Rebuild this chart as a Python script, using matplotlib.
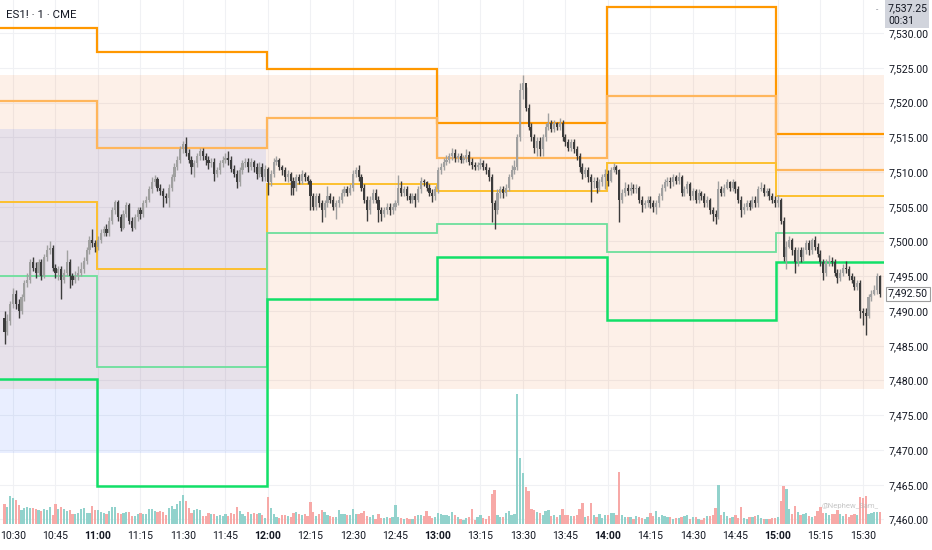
import numpy as np
import matplotlib
matplotlib.use('Agg')
import matplotlib.pyplot as plt
from matplotlib.patches import Rectangle
from matplotlib.transforms import blended_transform_factory, Affine2D

# 1-minute ES1! bars, minutes counted from 10:30 (first bar is 10:27)
start_minute = -3
first_open = 7489.0

closes = [
    7487.0, 7488.5, 7491.0, 7492.5, 7491.0, 7490.0, 7492.0, 7494.0, 7494.5, 7497.0,
    7496.25, 7495.5, 7497.0, 7495.0, 7497.75, 7498.75, 7499.0, 7496.25, 7495.5, 7496.0,
    7494.5, 7495.5, 7497.0, 7495.0, 7494.5, 7495.0, 7495.5, 7496.0, 7497.25, 7498.75,
    7500.25, 7499.75, 7499.25, 7500.25, 7501.25, 7501.75, 7501.25, 7503.0, 7504.5, 7505.75,
    7503.5, 7502.0, 7504.0, 7505.25, 7503.0, 7502.0, 7503.5, 7504.5, 7504.0, 7505.5,
    7506.0, 7507.5, 7508.5, 7509.0, 7507.75, 7507.25, 7506.5, 7506.25, 7507.75, 7509.25,
    7510.75, 7511.75, 7513.25, 7514.0, 7512.75, 7511.75, 7510.75, 7511.25, 7512.25, 7513.0,
    7512.25, 7511.75, 7511.25, 7511.5, 7509.75, 7510.25, 7511.25, 7511.75, 7512.0, 7511.75,
    7510.5, 7509.75, 7508.5, 7510.25, 7511.25, 7511.5, 7510.75, 7511.5, 7510.75, 7509.75,
    7510.75, 7509.25, 7510.5, 7508.5, 7509.75, 7511.5, 7511.75, 7510.75, 7510.25, 7509.25,
    7509.75, 7508.75, 7507.75, 7509.25, 7508.75, 7509.75, 7509.25, 7508.75, 7506.5, 7505.0,
    7506.5, 7505.5, 7504.5, 7505.5, 7506.5, 7506.0, 7505.0, 7505.5, 7506.0, 7507.0,
    7507.5, 7507.0, 7507.75, 7509.75, 7510.25, 7509.25, 7507.75, 7506.0, 7504.5, 7506.0,
    7507.0, 7506.0, 7504.5, 7504.0, 7504.5, 7505.0, 7504.5, 7505.0, 7505.5, 7507.75,
    7507.0, 7507.5, 7506.5, 7506.0, 7506.5, 7506.0, 7507.5, 7508.75, 7508.5, 7507.75,
    7507.0, 7506.5, 7507.5, 7510.25, 7510.75, 7511.5, 7511.75, 7512.25, 7512.75, 7512.0,
    7512.25, 7511.75, 7512.0, 7512.5, 7511.5, 7511.0, 7510.75, 7511.0, 7511.25, 7510.75,
    7510.25, 7509.25, 7505.5, 7504.5, 7507.0, 7507.5, 7507.0, 7507.75, 7509.25, 7510.25,
    7510.75, 7515.0, 7521.75, 7522.75, 7519.25, 7516.5, 7515.0, 7513.5, 7514.5, 7513.25,
    7515.0, 7516.5, 7517.0, 7516.25, 7517.0, 7516.5, 7517.0, 7515.0, 7514.25, 7513.5,
    7514.25, 7513.25, 7512.25, 7510.75, 7509.75, 7510.25, 7509.25, 7508.5, 7508.75, 7507.75,
    7508.5, 7509.25, 7509.75, 7508.75, 7510.25, 7510.75, 7510.25, 7506.0, 7507.0, 7507.75,
    7507.25, 7507.75, 7507.5, 7507.75, 7506.0, 7505.25, 7505.5, 7506.0, 7505.5, 7505.0,
    7505.5, 7506.5, 7507.75, 7508.5, 7508.75, 7508.5, 7509.25, 7508.75, 7509.25, 7507.0,
    7507.5, 7508.25, 7506.5, 7507.25, 7506.0, 7507.0, 7506.5, 7505.5, 7506.0, 7504.5,
    7504.0, 7503.5, 7507.5, 7507.0, 7507.75, 7508.5, 7507.75, 7508.5, 7507.5, 7506.0,
    7504.5, 7505.0, 7505.5, 7505.0, 7506.0, 7505.5, 7507.5, 7507.75, 7507.0, 7507.25,
    7506.5, 7506.0, 7505.5, 7506.0, 7503.0, 7497.75, 7499.25, 7500.25, 7498.75, 7497.0,
    7498.75, 7497.75, 7498.75, 7499.75, 7498.75, 7500.25, 7499.25, 7498.25, 7497.0, 7495.5,
    7497.0, 7497.25, 7497.0, 7495.5, 7494.75, 7495.5, 7496.25, 7496.0, 7495.0, 7494.5,
    7493.5, 7494.0, 7490.0, 7489.75, 7489.25, 7492.0, 7492.5, 7493.0, 7495.0, 7492.5,
]

highs = [
    7490.0, 7489.5, 7491.5, 7493.25, 7493.0, 7491.75, 7492.5, 7494.5, 7495.5, 7497.5,
    7497.75, 7497.0, 7497.5, 7497.5, 7498.25, 7499.5, 7500.0, 7499.5, 7496.75, 7496.5,
    7496.5, 7496.0, 7498.75, 7497.5, 7495.5, 7495.75, 7496.5, 7497.0, 7497.75, 7499.25,
    7500.75, 7501.75, 7500.25, 7500.75, 7501.75, 7502.25, 7502.5, 7503.5, 7505.0, 7506.0,
    7506.0, 7504.0, 7504.5, 7505.75, 7505.5, 7503.5, 7504.0, 7505.0, 7505.0, 7506.0,
    7506.5, 7508.0, 7509.25, 7509.5, 7509.25, 7508.25, 7507.75, 7507.0, 7508.25, 7509.75,
    7511.25, 7512.25, 7513.75, 7514.5, 7515.0, 7513.25, 7512.25, 7511.75, 7512.75, 7513.5,
    7513.5, 7512.75, 7512.25, 7512.0, 7512.0, 7510.75, 7511.75, 7512.25, 7512.75, 7513.0,
    7512.25, 7511.0, 7510.25, 7510.75, 7511.75, 7512.0, 7512.0, 7512.0, 7511.75, 7511.25,
    7511.5, 7511.25, 7511.0, 7510.75, 7510.25, 7512.0, 7512.25, 7512.0, 7511.0, 7510.75,
    7510.25, 7510.0, 7509.25, 7509.75, 7509.75, 7510.25, 7510.0, 7509.5, 7509.0, 7507.0,
    7507.0, 7507.0, 7506.0, 7506.0, 7508.0, 7507.0, 7506.5, 7506.0, 7506.5, 7507.5,
    7508.0, 7508.0, 7508.25, 7510.25, 7510.75, 7511.0, 7509.75, 7508.25, 7506.5, 7506.5,
    7507.5, 7507.5, 7506.5, 7505.0, 7505.0, 7505.5, 7505.5, 7505.5, 7506.0, 7509.5,
    7508.75, 7508.0, 7508.0, 7507.0, 7507.0, 7507.0, 7508.0, 7509.25, 7509.0, 7508.75,
    7508.25, 7507.5, 7508.0, 7510.75, 7511.25, 7512.0, 7512.5, 7512.75, 7513.5, 7513.25,
    7512.75, 7512.75, 7512.5, 7513.25, 7513.0, 7512.0, 7511.5, 7511.5, 7512.0, 7511.75,
    7511.25, 7510.75, 7509.75, 7506.0, 7507.5, 7508.0, 7508.0, 7508.25, 7509.75, 7511.0,
    7511.75, 7515.5, 7522.75, 7524.0, 7522.25, 7519.75, 7517.0, 7515.5, 7515.0, 7515.0,
    7515.5, 7517.0, 7518.5, 7517.5, 7517.5, 7517.25, 7517.75, 7517.5, 7515.5, 7514.75,
    7514.75, 7514.75, 7513.75, 7512.75, 7511.25, 7510.75, 7510.75, 7509.75, 7509.25, 7509.25,
    7509.0, 7509.75, 7510.5, 7510.25, 7510.75, 7511.25, 7511.0, 7510.5, 7507.5, 7508.5,
    7508.25, 7508.5, 7508.25, 7508.25, 7508.0, 7506.5, 7506.0, 7506.5, 7506.5, 7506.0,
    7506.0, 7507.0, 7508.25, 7509.0, 7509.25, 7509.25, 7509.75, 7509.5, 7510.0, 7509.5,
    7508.0, 7508.75, 7508.5, 7507.75, 7507.5, 7507.5, 7507.25, 7507.0, 7506.5, 7506.25,
    7505.0, 7504.5, 7508.75, 7508.0, 7508.25, 7509.0, 7508.75, 7509.0, 7508.75, 7508.0,
    7506.5, 7505.5, 7506.0, 7506.0, 7506.5, 7506.5, 7508.0, 7508.5, 7508.25, 7507.75,
    7507.75, 7507.0, 7506.5, 7506.75, 7506.25, 7503.5, 7500.0, 7500.75, 7500.5, 7499.25,
    7499.25, 7499.25, 7499.25, 7500.25, 7500.25, 7500.5, 7500.75, 7499.75, 7498.75, 7497.5,
    7497.5, 7498.0, 7497.75, 7497.5, 7496.0, 7496.0, 7496.75, 7497.25, 7496.5, 7495.5,
    7495.0, 7494.5, 7494.5, 7490.5, 7490.5, 7492.5, 7493.0, 7493.75, 7495.5, 7495.25,
]

lows = [
    7485.25, 7486.5, 7488.0, 7490.5, 7490.25, 7489.0, 7489.5, 7491.5, 7493.5, 7494.0,
    7495.75, 7494.75, 7495.0, 7494.5, 7494.75, 7497.25, 7498.25, 7495.75, 7494.75, 7494.5,
    7491.75, 7494.0, 7495.0, 7493.25, 7493.75, 7494.0, 7494.5, 7495.0, 7495.5, 7496.75,
    7498.25, 7499.25, 7498.5, 7498.75, 7499.75, 7500.75, 7500.75, 7500.75, 7502.5, 7504.0,
    7503.0, 7501.5, 7501.75, 7503.5, 7502.5, 7501.5, 7501.75, 7503.0, 7503.25, 7503.5,
    7505.0, 7505.75, 7507.0, 7508.0, 7507.25, 7506.75, 7505.0, 7505.5, 7505.0, 7507.25,
    7508.75, 7510.25, 7511.25, 7512.75, 7512.25, 7511.25, 7509.75, 7509.25, 7510.75, 7511.75,
    7511.75, 7511.0, 7510.5, 7510.75, 7508.75, 7509.25, 7509.75, 7510.75, 7511.25, 7511.0,
    7510.0, 7509.25, 7507.75, 7508.0, 7509.75, 7510.75, 7510.0, 7510.25, 7510.0, 7509.0,
    7509.25, 7508.75, 7508.75, 7506.75, 7508.0, 7509.25, 7511.0, 7510.25, 7509.5, 7508.75,
    7508.5, 7506.75, 7506.75, 7507.25, 7508.25, 7508.25, 7508.75, 7508.25, 7504.5, 7504.5,
    7504.5, 7505.0, 7502.75, 7503.5, 7505.0, 7505.5, 7504.5, 7503.25, 7505.0, 7505.5,
    7506.5, 7506.5, 7506.75, 7507.25, 7509.25, 7508.75, 7507.25, 7505.5, 7503.0, 7504.0,
    7505.5, 7505.5, 7502.75, 7503.0, 7503.5, 7504.0, 7503.75, 7504.0, 7504.5, 7505.25,
    7506.5, 7506.5, 7506.0, 7505.5, 7505.5, 7505.0, 7505.75, 7507.0, 7508.0, 7507.25,
    7506.5, 7505.75, 7506.0, 7507.0, 7509.75, 7510.25, 7511.0, 7511.25, 7511.75, 7511.5,
    7511.5, 7511.25, 7511.25, 7511.5, 7511.0, 7510.5, 7510.25, 7510.25, 7510.5, 7510.25,
    7509.75, 7508.75, 7502.75, 7501.75, 7504.0, 7506.25, 7506.25, 7506.5, 7507.25, 7509.0,
    7509.75, 7510.25, 7514.5, 7520.5, 7518.75, 7516.0, 7514.5, 7512.75, 7512.25, 7512.25,
    7512.25, 7514.5, 7516.0, 7515.75, 7515.75, 7516.0, 7516.0, 7514.5, 7513.75, 7513.0,
    7513.0, 7512.75, 7511.75, 7510.0, 7509.0, 7509.25, 7508.5, 7505.75, 7507.75, 7507.0,
    7507.25, 7508.0, 7507.5, 7508.0, 7508.5, 7510.0, 7509.75, 7502.75, 7505.5, 7506.5,
    7506.75, 7506.75, 7507.0, 7507.0, 7505.5, 7504.25, 7504.75, 7505.0, 7504.75, 7504.25,
    7504.0, 7505.0, 7506.0, 7507.25, 7508.0, 7507.75, 7508.0, 7508.25, 7508.25, 7506.5,
    7506.5, 7507.0, 7506.0, 7506.0, 7505.5, 7505.5, 7506.0, 7505.0, 7505.0, 7504.0,
    7503.0, 7502.5, 7503.25, 7506.5, 7506.5, 7507.5, 7507.25, 7507.25, 7507.0, 7505.5,
    7503.5, 7504.0, 7504.5, 7504.5, 7504.75, 7505.0, 7505.0, 7507.25, 7506.5, 7506.5,
    7506.0, 7505.5, 7505.0, 7505.0, 7502.5, 7497.25, 7496.0, 7499.0, 7498.0, 7495.5,
    7496.5, 7497.0, 7497.25, 7498.25, 7498.0, 7498.25, 7498.75, 7497.75, 7496.5, 7494.5,
    7495.0, 7496.5, 7496.5, 7495.0, 7494.0, 7494.25, 7495.0, 7495.5, 7494.5, 7494.0,
    7493.0, 7493.0, 7489.0, 7488.0, 7486.5, 7489.0, 7491.5, 7492.25, 7492.5, 7492.0,
]

# volume in hundreds of contracts
volumes = [
    20, 17, 28, 26, 24, 19, 14, 16, 17, 16,
    16, 15, 14, 13, 15, 14, 17, 9, 20, 15,
    17, 15, 13, 14, 10, 10, 11, 15, 16, 11,
    11, 18, 14, 14, 12, 11, 10, 13, 17, 17,
    11, 10, 11, 12, 12, 8, 8, 10, 11, 10,
    10, 15, 15, 13, 12, 13, 12, 9, 16, 18,
    15, 20, 23, 29, 23, 16, 11, 14, 15, 14,
    8, 8, 11, 10, 10, 8, 9, 8, 10, 8,
    11, 10, 17, 13, 10, 8, 12, 10, 11, 10,
    11, 9, 6, 27, 16, 10, 7, 6, 9, 9,
    8, 7, 11, 12, 10, 9, 10, 8, 22, 12,
    8, 10, 14, 12, 9, 8, 7, 7, 14, 10,
    10, 9, 9, 15, 10, 10, 11, 13, 8, 7,
    9, 5, 10, 6, 6, 7, 6, 7, 19, 7,
    6, 5, 6, 5, 5, 8, 9, 9, 8, 13,
    8, 6, 7, 11, 10, 9, 9, 8, 12, 9,
    7, 5, 4, 6, 7, 15, 4, 7, 9, 6,
    5, 8, 30, 34, 9, 7, 7, 11, 13, 9,
    10, 130, 66, 51, 37, 33, 15, 14, 12, 11,
    9, 13, 14, 8, 9, 7, 9, 15, 9, 9,
    8, 8, 9, 15, 21, 7, 8, 21, 9, 7,
    10, 6, 9, 9, 11, 11, 9, 52, 9, 7,
    7, 7, 5, 8, 7, 6, 5, 7, 11, 8,
    13, 7, 9, 8, 7, 7, 5, 6, 6, 7,
    8, 9, 5, 7, 7, 5, 4, 6, 8, 8,
    9, 16, 39, 9, 12, 8, 6, 7, 9, 6,
    17, 6, 5, 7, 7, 8, 9, 6, 5, 5,
    5, 6, 6, 7, 23, 38, 35, 15, 10, 18,
    12, 9, 10, 11, 8, 7, 8, 13, 17, 11,
    11, 9, 10, 10, 14, 10, 8, 10, 7, 9,
    10, 9, 27, 26, 28, 10, 11, 12, 12, 12,
]

# hourly levels (one value per hour block)
hour_edges = [-5, 29.5, 89.5, 149.5, 209.5, 269.5, 308]
level_top = [7530.75, 7527.25, 7524.75, 7517.0, 7533.75, 7515.5]
level_upper = [7520.25, 7513.5, 7517.75, 7512.0, 7521.0, 7510.25]
level_mid = [7505.75, 7496.0, 7508.25, 7507.25, 7511.25, 7506.5]
level_lower = [7495.0, 7482.0, 7501.25, 7502.5, 7498.5, 7501.25]
level_bottom = [7480.25, 7464.75, 7491.75, 7497.75, 7488.75, 7497.0]

# shaded zones
session_zone = (7478.75, 7524.0)
morning_zone = (7469.5, 7516.25)
morning_zone_end = 89.3

time_ticks = list(range(0, 301, 15))
time_labels = ['10:30', '10:45', '11:00', '11:15', '11:30', '11:45', '12:00', '12:15',
               '12:30', '12:45', '13:00', '13:15', '13:30', '13:45', '14:00', '14:15',
               '14:30', '14:45', '15:00', '15:15', '15:30']
price_ticks = list(range(7460, 7531, 5))

TEXT = '#131722'
FS = 7.6


def main():
    plt.rcParams['font.family'] = ['Roboto', 'DejaVu Sans']
    fig = plt.figure(figsize=(9.32, 5.5), dpi=100)
    ax = fig.add_axes([0, 26 / 550, 884 / 932, 524 / 550])

    draw_zones(ax)
    draw_volume(ax)
    draw_levels(ax)
    draw_candles(ax)
    style_axes(ax)
    draw_labels(fig, ax)

    fig.savefig('out.png', dpi=100)


def draw_zones(ax):
    ax.axhspan(*session_zone, color='#f06000', alpha=0.09, lw=0, zorder=1)
    ax.add_patch(Rectangle((-5, morning_zone[0]), morning_zone_end + 5,
                           morning_zone[1] - morning_zone[0],
                           color='#2962ff', alpha=0.1, lw=0, zorder=1))


def draw_volume(ax):
    x = np.arange(start_minute, start_minute + len(closes))
    opens = np.array([first_open] + closes[:-1])
    up = np.array(closes) >= opens
    # volume pane: 1 unit = 1 pixel up from the bottom of the plot
    vol_tr = blended_transform_factory(ax.transData, Affine2D().scale(1, 1 / 524) + ax.transAxes)
    ax.bar(x, volumes, width=0.8, color=np.where(up, '#92d2cc', '#f7a9a7'),
           lw=0, transform=vol_tr, zorder=2)


def draw_levels(ax):
    ax.stairs(level_top, hour_edges, baseline=None, color='#ff9800', lw=1.6, zorder=3)
    ax.stairs(level_upper, hour_edges, baseline=None, color='#ffb65c', lw=1.6, zorder=3)
    ax.stairs(level_mid, hour_edges, baseline=None, color='#fcc02e', lw=1.4, zorder=3)
    ax.stairs(level_lower, hour_edges, baseline=None, color='#6ddf9c', lw=1.3, zorder=3)
    ax.stairs(level_bottom, hour_edges, baseline=None, color='#12e068', lw=1.8, zorder=3)


def draw_candles(ax):
    x = np.arange(start_minute, start_minute + len(closes))
    c = np.array(closes)
    o = np.array([first_open] + closes[:-1])
    colors = np.where(c >= o, '#a0a0a0', '#3c3c3c')
    ax.vlines(x, lows, highs, colors=colors, lw=1, zorder=4)
    ax.bar(x, np.maximum(np.abs(c - o), 0.15), bottom=np.minimum(o, c),
           width=0.75, color=colors, lw=0, zorder=5)


def style_axes(ax):
    ax.set_xlim(-4.59, 307.45)
    ax.set_ylim(7459.35, 7534.75)
    ax.set_facecolor('white')
    for s in ax.spines.values():
        s.set_visible(False)

    ax.yaxis.tick_right()
    ax.set_yticks(price_ticks)
    ax.set_yticklabels([f'{p:,.2f}' for p in price_ticks])
    ax.set_xticks(time_ticks)
    ax.set_xticklabels(time_labels)
    ax.tick_params(axis='y', length=0, pad=3, labelsize=FS, labelcolor=TEXT)
    ax.tick_params(axis='x', length=0, pad=5, labelsize=FS, labelcolor=TEXT)
    for lbl in ax.get_xticklabels():
        if lbl.get_text().endswith(':00'):
            lbl.set_fontweight('bold')

    ax.grid(True, color='#f0f1f4', lw=0.8)
    ax.set_axisbelow(True)


def draw_labels(fig, ax):
    fig.text(6 / 932, 1 - 15 / 550, 'ES1! · 1 · CME', fontsize=8.2, color=TEXT, va='center')

    # countdown box clamped at the top of the price scale
    fig.patches.append(Rectangle((885 / 932, 1 - 28 / 550), 44 / 932, 28 / 550,
                                 transform=fig.transFigure, color='#d1d4dc', lw=0))
    fig.text(888 / 932, 1 - 8 / 550, '7,537.25', fontsize=FS, color=TEXT, va='center')
    fig.text(888 / 932, 1 - 21 / 550, '00:31', fontsize=FS, color=TEXT, va='center')
    fig.text(876 / 932, 1 - 10 / 550, '-', fontsize=6, color='#787b86', va='center')

    # last price label
    tr = blended_transform_factory(ax.transAxes, ax.transData)
    ax.text(1.0045, closes[-1], f'{closes[-1]:,.2f}', transform=tr, fontsize=FS,
            color=TEXT, va='center', ha='left', clip_on=False,
            bbox=dict(boxstyle='square,pad=0.2', fc='white', ec='#9e9e9e', lw=0.8))

    fig.text(822 / 932, 1 - 506 / 550, '@Nephew_Sam_', fontsize=5.5, color='#b8b8b8',
             va='center', alpha=0.8)


if __name__ == "__main__":
    main()
